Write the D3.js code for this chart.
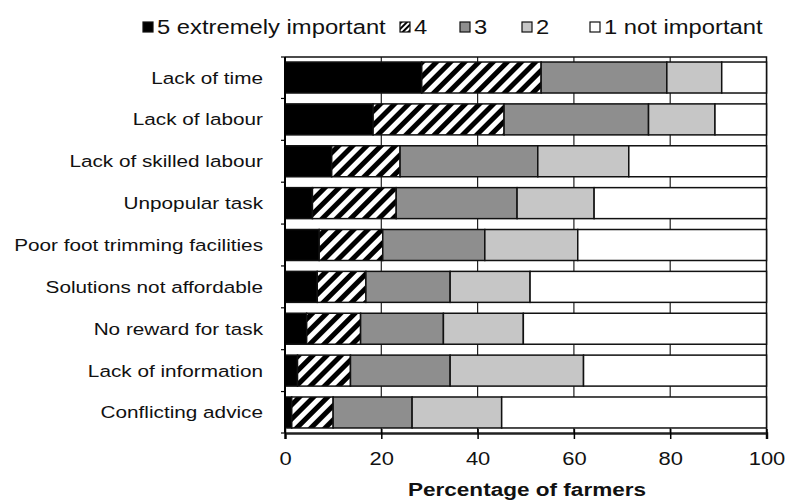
<!DOCTYPE html>
<html><head><meta charset="utf-8">
<script src="https://cdn.jsdelivr.net/npm/d3@7"></script>
<style>body{margin:0;background:#fff}svg{display:block}text{font-family:"Liberation Sans",Arial,Helvetica,sans-serif;fill:#111}</style>
</head><body><svg id="c" width="785" height="500"></svg>
<script>
const categories = ["Lack of time","Lack of labour","Lack of skilled labour","Unpopular task","Poor foot trimming facilities","Solutions not affordable","No reward for task","Lack of information","Conflicting advice"];
const seriesKeys = ["s5","s4","s3","s2","s1"];
const seriesLabels = ["5 extremely important","4","3","2","1 not important"];
const s5 = [28.4,18.3,9.7,5.7,7.1,6.7,4.5,2.6,1.4];
const s4 = [24.8,27.2,14.2,17.4,13.2,10.1,11.2,11.0,8.6];
const s3 = [26.1,30.0,28.6,25.1,21.2,17.5,17.2,20.7,16.4];
const s2 = [11.4,13.8,18.9,16.0,19.3,16.6,16.6,27.7,18.6];
const s1 = [9.3,10.7,28.6,35.8,39.2,49.1,50.5,38.0,55.0];
const xTicks = [0,20,40,60,80,100];
const xTitle = "Percentage of farmers";

const rows = categories.map((c,i)=>({cat:c,s5:s5[i],s4:s4[i],s3:s3[i],s2:s2[i],s1:s1[i]}));
const svg = d3.select("#c");
const SX = 1.22;
const L = 285, R = 766.5, T = 57, B = 433;
const x = d3.scaleLinear().domain([0,100]).range([L,R]);
const y = d3.scaleBand().domain(categories).range([T,B]).paddingInner(0.26).paddingOuter(0.12);

const defs = svg.append("defs");
const pat = defs.append("pattern").attr("id","hatch").attr("patternUnits","userSpaceOnUse")
  .attr("width",10).attr("height",10).attr("patternTransform","rotate(45)");
pat.append("rect").attr("width",10).attr("height",10).attr("fill","#fff");
pat.append("rect").attr("x",0).attr("width",5).attr("height",10).attr("fill","#000");
const pat2 = defs.append("pattern").attr("id","hatchS").attr("patternUnits","userSpaceOnUse")
  .attr("width",4).attr("height",4).attr("patternTransform","rotate(45)");
pat2.append("rect").attr("width",4).attr("height",4).attr("fill","#fff");
pat2.append("rect").attr("width",2).attr("height",4).attr("fill","#000");

const fills = {s5:"#000", s4:"url(#hatch)", s3:"#8e8e8e", s2:"#c6c6c6", s1:"#fff"};
const legendFills = {s5:"#000", s4:"url(#hatchS)", s3:"#8e8e8e", s2:"#c6c6c6", s1:"#fff"};

// gridlines
svg.append("g").selectAll("line").data(xTicks.filter(t=>t>0&&t<100)).join("line")
  .attr("x1",d=>x(d)).attr("x2",d=>x(d)).attr("y1",T).attr("y2",B)
  .attr("stroke","#222").attr("stroke-width",1.2);

// frame
svg.append("path").attr("d",`M${L},${T}H${R}V${B}`).attr("fill","none").attr("stroke","#111").attr("stroke-width",1.5);

const stack = d3.stack().keys(seriesKeys)(rows);
svg.append("g").selectAll("g").data(stack).join("g")
  .attr("fill",d=>fills[d.key])
  .selectAll("rect").data(d=>d).join("rect")
  .attr("x",d=>x(d[0])).attr("width",d=>x(d[1])-x(d[0]))
  .attr("y",d=>y(d.data.cat)).attr("height",y.bandwidth())
  .attr("stroke","#111").attr("stroke-width",1.5);

// left axis
svg.append("line").attr("x1",L).attr("x2",L).attr("y1",T).attr("y2",B).attr("stroke","#000").attr("stroke-width",2);
const gap = y.step()-y.bandwidth();
const bounds = categories.map(c=>y(c)-gap/2).concat([B]);
bounds[0]=T;
svg.append("g").selectAll("line").data(bounds).join("line")
  .attr("x1",L-4).attr("x2",L).attr("y1",d=>d).attr("y2",d=>d).attr("stroke","#000").attr("stroke-width",1.2);

svg.append("g").selectAll("g").data(categories).join("g")
  .attr("transform",d=>`translate(263,${y(d)+y.bandwidth()/2+6}) scale(${SX},1)`)
  .append("text").attr("text-anchor","end").attr("font-size",17).text(d=>d);

// bottom axis
const xa = svg.append("g").attr("transform",`translate(0,${B})`)
  .call(d3.axisBottom(x).tickValues(xTicks).tickSize(6).tickFormat(d3.format("d")));
xa.select(".domain").attr("stroke","#222").attr("stroke-width",2.5);
xa.selectAll(".tick line").attr("stroke","#000").attr("stroke-width",1.5).attr("y1",-4);
xa.selectAll(".tick text").attr("font-size",null).attr("dy",null).attr("y",32).attr("x",0)
  .attr("transform",`scale(${SX},1)`).style("font-size","18px").attr("fill","#111");
svg.append("g").attr("transform",`translate(527,496) scale(${SX},1)`)
  .append("text").attr("text-anchor","middle").attr("font-size",18.5).attr("font-weight","bold").text(xTitle);

// legend
const legX = [143,400,460,522,590];
const lg = svg.append("g").selectAll("g").data(seriesKeys).join("g")
  .attr("transform",(d,i)=>`translate(${legX[i]},22)`);
lg.append("rect").attr("width",10).attr("height",10).attr("fill",d=>legendFills[d]).attr("stroke","#111").attr("stroke-width",1.2);
lg.append("g").attr("transform",`translate(14,12) scale(${SX},1)`)
  .append("text").attr("font-size",19.5).text((d,i)=>seriesLabels[i]);
</script></body></html>
